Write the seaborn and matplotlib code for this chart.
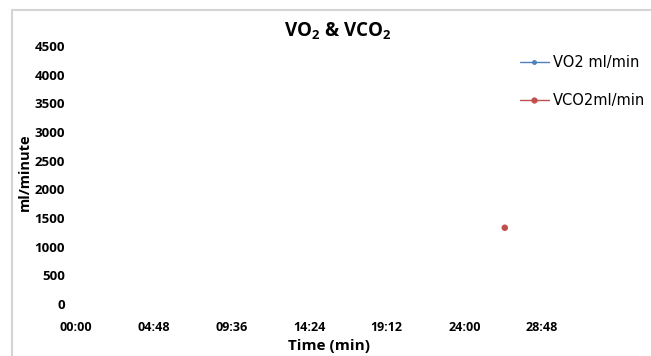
import matplotlib
matplotlib.use("Agg")
import matplotlib.pyplot as plt
import seaborn as sns
import pandas as pd
from matplotlib.lines import Line2D

# ---- data ----
time_sec_vco2 = [1590]          # seconds
vco2_ml_min = [1330]
time_sec_vo2 = []               # no visible VO2 points
vo2_ml_min = []
x_ticks_sec = [0, 288, 576, 864, 1152, 1440, 1728]
x_tick_labels = ["00:00", "04:48", "09:36", "14:24", "19:12", "24:00", "28:48"]
y_ticks = [0, 500, 1000, 1500, 2000, 2500, 3000, 3500, 4000, 4500]
series_names = ["VO2 ml/min", "VCO2ml/min"]
colors = ["#4F81BD", "#C0504D"]

sns.set_theme(style="white")
plt.rcParams['font.family'] = ['Open Sans', 'DejaVu Sans']
plt.rcParams['mathtext.fontset'] = 'custom'
plt.rcParams['mathtext.rm'] = 'Open Sans:bold'
plt.rcParams['mathtext.it'] = 'Open Sans:bold'
plt.rcParams['mathtext.bf'] = 'Open Sans:bold'
plt.rcParams['mathtext.default'] = 'rm'
plt.rcParams['text.color'] = 'black'
plt.rcParams['xtick.color'] = 'black'
plt.rcParams['ytick.color'] = 'black'

W, H = 651, 356
fig = plt.figure(figsize=(W / 100, H / 100), dpi=100)
ax = fig.add_axes([76 / W, 1 - 304 / H, (542 - 76) / W, (304 - 46) / H])

df = pd.DataFrame({"t": time_sec_vco2, "v": vco2_ml_min})
sns.scatterplot(data=df, x="t", y="v", ax=ax, color=colors[1], s=22,
                edgecolor="none", legend=False)
if time_sec_vo2:
    df2 = pd.DataFrame({"t": time_sec_vo2, "v": vo2_ml_min})
    sns.lineplot(data=df2, x="t", y="v", ax=ax, color=colors[0], marker="o")

ax.set_xlim(0, 1728)
ax.set_ylim(0, 4500)
ax.set_xticks(x_ticks_sec)
ax.set_xticklabels(x_tick_labels, fontsize=9, fontweight="bold")
ax.set_yticks(y_ticks)
ax.set_yticklabels([str(v) for v in y_ticks], fontsize=9.5, fontweight="bold")
ax.tick_params(axis="x", length=0, pad=12)
ax.tick_params(axis="y", length=0, pad=8)
ax.set_xlabel("")
ax.set_ylabel("")
for s in ax.spines.values():
    s.set_visible(False)
ax.patch.set_alpha(0)

fig.text(338 / W, 1 - 31 / H, r"VO$_2$ & VCO$_2$", ha="center", va="center",
         fontsize=13.5, fontweight="bold")
fig.text(329 / W, 1 - 346 / H, "Time (min)", ha="center", va="center",
         fontsize=11, fontweight="bold")
fig.text(25 / W, 1 - 172 / H, "ml/minute", ha="center", va="center",
         rotation=90, fontsize=10.5, fontweight="bold")

# screenshot border lines
fig.add_artist(Line2D([12 / W, 1], [1 - 10 / H, 1 - 10 / H], color="#d4d4d4", lw=1.5))
fig.add_artist(Line2D([12 / W, 12 / W], [0, 1 - 10 / H], color="#d4d4d4", lw=1.5))

handles = [Line2D([], [], color=colors[0], lw=1, marker="o", markersize=2.5),
           Line2D([], [], color=colors[1], lw=1, marker="o", markersize=3.5)]
leg = fig.legend(handles, series_names, loc="upper left",
                 bbox_to_anchor=(514 / W, 1 - 49 / H), frameon=False,
                 prop={"family": "DejaVu Sans", "size": 10.5}, handlelength=2.0,
                 handletextpad=0.3, labelspacing=1.6, borderaxespad=0)

fig.savefig("out.png", dpi=100)
